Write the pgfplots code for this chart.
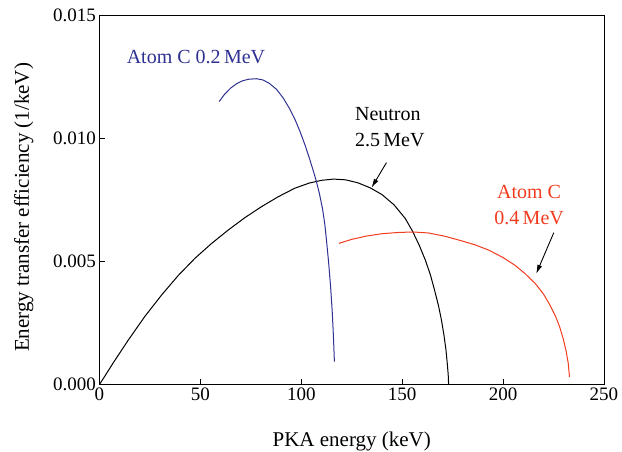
\documentclass[border=0pt]{standalone}
\usepackage{fontspec}
\setmainfont{Liberation Serif}
\usepackage{pgfplots}
\pgfplotsset{compat=1.18}
\usetikzlibrary{arrows.meta}
\definecolor{atomblue}{RGB}{46,49,146}
\definecolor{atomred}{RGB}{240,60,30}

\pgfplotstableread{
x y
0 0
7.2 0.00093
14.3 0.00181
22.5 0.00277
30.8 0.00364
39 0.00443
47.3 0.00513
55.5 0.00573
63.8 0.00628
72 0.00678
80.3 0.00723
88.5 0.00763
96.8 0.00798
104 0.00819
110 0.00830
116 0.00835
122 0.00832
128 0.00820
134 0.00800
140 0.00772
146 0.00730
151.5 0.00675
155 0.00625
158.5 0.00565
161.5 0.00505
164 0.00445
166 0.00385
168 0.00320
169.5 0.00260
170.7 0.00200
171.7 0.00140
172.4 0.00080
172.8 0.00040
173 0
}\neutron

\pgfplotstableread{
x y
59.3 0.01150
62 0.01180
65 0.01205
68 0.01223
71 0.01235
74 0.01241
77.8 0.01243
81 0.01238
84 0.01225
87.7 0.01200
91 0.01165
94.3 0.01120
97 0.01075
99.3 0.01030
102 0.00970
104.2 0.00915
106 0.00867
107.5 0.00825
109 0.00775
110.5 0.00715
111.6 0.00655
112.5 0.00585
113.5 0.00500
114.5 0.00400
115.3 0.00300
115.9 0.00200
116.4 0.00093
}\atomlow

\pgfplotstableread{
x y
118.7 0.00574
125 0.00590
132 0.00603
140 0.00613
148 0.00618
155.5 0.00620
163 0.00616
171 0.00603
179 0.00585
186 0.00568
193 0.00546
200 0.00516
206 0.00484
211 0.00450
216 0.00410
220 0.00368
223 0.00326
226 0.00277
228 0.00235
229.8 0.00186
231.3 0.00133
232.3 0.00085
232.9 0.00030
}\atomhigh

\begin{document}
\begin{tikzpicture}
\useasboundingbox (-99.5pt,-66.5pt) rectangle (522.5pt,384.5pt);
\begin{axis}[
    scale only axis,
    width=504.5pt, height=369pt,
    xmin=0, xmax=250, ymin=0, ymax=0.015,
    xtick={0,50,...,250},
    ytick={0,0.005,0.010,0.015},
    yticklabel style={/pgf/number format/fixed, /pgf/number format/precision=3, /pgf/number format/fixed zerofill},
    scaled y ticks=false,
    /pgf/number format/assume math mode=true,
    tick align=inside,
    xtick pos=bottom, ytick pos=left,
    major tick length=6pt,
    tick style={line width=0.9pt, black},
    axis line style={line width=0.9pt},
    tick label style={font=\fontsize{19}{22}\selectfont},
    label style={font=\fontsize{21}{24}\selectfont},
    xlabel={PKA energy (keV)},
    ylabel={Energy transfer efficiency (1/keV)},
    xlabel style={at={(axis description cs:0.5,-0.169)}, anchor=base},
    ylabel style={at={(axis description cs:-0.150,0.48)}, anchor=center, rotate=0},
  ]
  \addplot[black, line width=1pt] table[x=x, y=y] {\neutron};
  \addplot[atomblue, line width=1pt] table[x=x, y=y] {\atomlow};
  \addplot[atomred, line width=1pt] table[x=x, y=y] {\atomhigh};

  \node[atomblue, anchor=base, font=\fontsize{20}{24}\selectfont] at (axis cs:47.8,0.01306) {Atom C 0.2\,MeV};
  \node[black, anchor=base west, font=\fontsize{20}{24}\selectfont] at (axis cs:124.9,0.01072) {Neutron};
  \node[black, anchor=base west, font=\fontsize{20}{24}\selectfont] at (axis cs:124.9,0.00967) {2.5\,MeV};
  \node[atomred, anchor=base, font=\fontsize{20}{24}\selectfont] at (axis cs:212.9,0.00757) {Atom C};
  \node[atomred, anchor=base, font=\fontsize{20}{24}\selectfont] at (axis cs:212.9,0.00652) {0.4\,MeV};

  \draw[-{Latex[length=9pt,width=5pt]}, line width=0.9pt] (axis cs:142.2,0.00902) -- (axis cs:134.8,0.00800);
  \draw[-{Latex[length=9pt,width=5pt]}, line width=0.9pt] (axis cs:225.1,0.00617) -- (axis cs:216.4,0.00450);
\end{axis}
\end{tikzpicture}
\end{document}
